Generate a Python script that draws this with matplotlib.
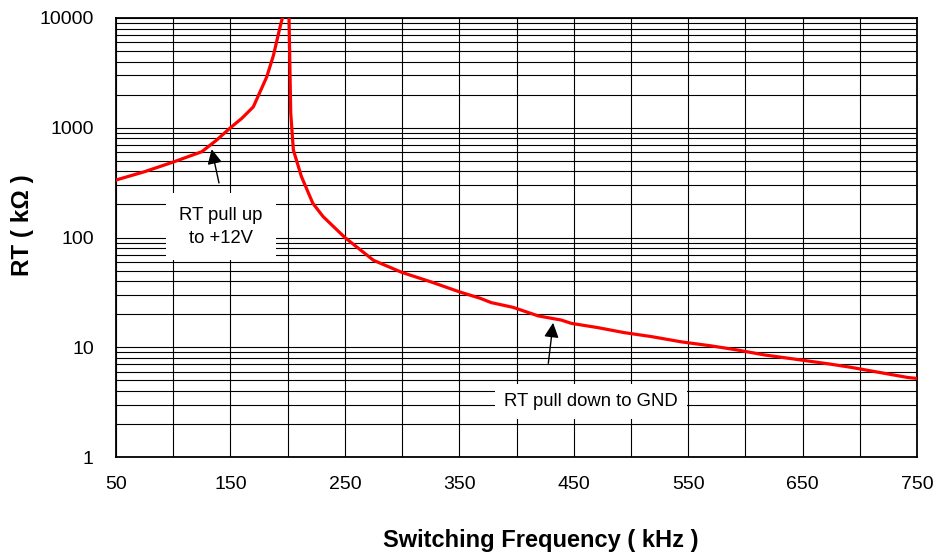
import matplotlib
matplotlib.use("Agg")
import matplotlib.pyplot as plt
from matplotlib.ticker import LogLocator, FixedLocator, FuncFormatter, NullFormatter

plt.rcParams['font.family'] = ['Liberation Sans', 'DejaVu Sans']

# Pull-up branch (RT to +12V)
up_freq = [50, 75, 100, 125, 138, 150, 160, 170, 181.7, 187.6, 193.4, 195.4, 196.5]
up_rt = [334, 398, 487, 605, 773, 1000, 1220, 1550, 2900, 4570, 8300, 10000, 12000]

# Pull-down branch (RT to GND)
down_freq = [200.8, 201.2, 202.7, 205, 212, 222, 231, 250, 275, 300, 325, 350, 368, 378,
             397, 419, 439, 448, 471, 494, 518, 544, 570, 593, 617, 643, 675, 692, 742, 750]
down_rt = [12000, 10000, 1360, 627, 360, 205, 155, 100, 62, 48, 39.5, 32, 28, 25.5,
           23.1, 19.3, 17.7, 16.5, 15.1, 13.6, 12.5, 11.2, 10.3, 9.44, 8.5, 7.8, 7.0, 6.57, 5.3, 5.2]

x_ticks = [50, 150, 250, 350, 450, 550, 650, 750]
x_grid = list(range(50, 751, 50))
y_ticks = [1, 10, 100, 1000, 10000]

fig = plt.figure(figsize=(9.33, 5.56), dpi=100)
ax = fig.add_axes([116/933, 1-457/556, (917-116)/933, (457-18)/556])

ax.set_yscale('log')
ax.set_xlim(50, 750)
ax.set_ylim(1, 10000)

ax.xaxis.set_major_locator(FixedLocator(x_ticks))
ax.xaxis.set_minor_locator(FixedLocator(x_grid))
ax.yaxis.set_major_locator(FixedLocator(y_ticks))
ax.yaxis.set_major_formatter(FuncFormatter(lambda v, p: f"{int(round(v))}"))
ax.yaxis.set_minor_locator(LogLocator(base=10, subs=range(2, 10), numticks=20))
ax.yaxis.set_minor_formatter(NullFormatter())

ax.grid(True, which='both', color='black', linewidth=0.8)
ax.set_axisbelow(True)
ax.tick_params(which='both', length=0)
ax.tick_params(axis='x', labelsize=14, pad=14)
ax.tick_params(axis='y', labelsize=14, pad=16)
for s in ax.spines.values():
    s.set_linewidth(1.3)
    s.set_color('black')

ax.plot(up_freq, up_rt, color='#ff0000', lw=2.3, zorder=3, clip_on=True)
ax.plot(down_freq, down_rt, color='#ff0000', lw=2.3, zorder=3, clip_on=True)

ax.text(141.8, 125, "RT pull up\nto +12V", ha='center', va='center', fontsize=13.3,
        linespacing=1.5, zorder=4,
        bbox=dict(boxstyle='square,pad=0.72', fc='white', ec='none'))
ax.text(464.8, 3.19, "RT pull down to GND", ha='center', va='center', fontsize=13.3,
        zorder=4, bbox=dict(boxstyle='square,pad=0.5', fc='white', ec='none'))

arrow = dict(arrowstyle='-|>', color='black', lw=1.0, mutation_scale=22, shrinkA=0, shrinkB=0)
ax.annotate("", xy=(133.6, 637), xytext=(140, 314), arrowprops=arrow, zorder=5)
ax.annotate("", xy=(432, 16.7), xytext=(427.8, 7.14), arrowprops=arrow, zorder=5)

fig.text(22/933, 1-225/556, "RT ( k\u03a9 )", rotation=90, ha='center', va='center',
         fontsize=17.5, fontweight='bold')
fig.text(541/933, 1-540/556, "Switching Frequency ( kHz )", ha='center', va='center',
         fontsize=17, fontweight='bold')

fig.savefig("out.png", dpi=100)
